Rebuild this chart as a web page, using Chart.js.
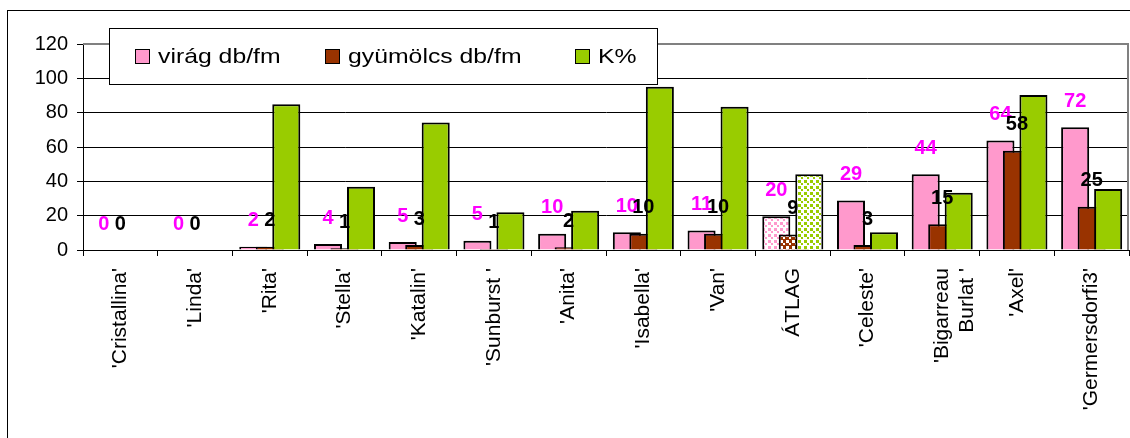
<!DOCTYPE html>
<html>
<head>
<meta charset="utf-8">
<script src="https://cdn.jsdelivr.net/npm/chart.js@4.4.1/dist/chart.umd.min.js"></script>
<style>
  body { margin: 0; background: #fff; }
  #wrap { width: 1130px; height: 438px; position: relative; }
</style>
</head>
<body>
<div id="wrap"><canvas id="myChart"></canvas></div>
<script>
const labels = [
  "'Cristallina'",
  "'Linda'",
  "'Rita'",
  "'Stella'",
  "'Katalin'",
  "'Sunburst '",
  "'Anita'",
  "'Isabella'",
  "'Van'",
  'ÁTLAG',
  "'Celeste'",
  ["'Bigarreau", "Burlat '"],
  "'Axel'",
  "'Germersdorfi3'"
];

const virag = [0, 0, 1.9, 3.5, 4.6, 5.4, 9.5, 10.3, 11.4, 19.6, 28.8, 44.1, 63.8, 71.5];
const gyumolcs = [0, 0, 1.9, 1.0, 2.9, 0.6, 1.6, 9.5, 9.5, 9.1, 2.9, 15.0, 57.8, 25.2];
const kSzazalek = [0, 0, 84.9, 36.9, 74.2, 22.0, 22.9, 95.1, 83.5, 44.1, 10.3, 33.4, 90.3, 35.5];

const seriesNames = ['virág db/fm', 'gyümölcs db/fm', 'K%'];
const yMax = 120;
const yStep = 20;

const pink = '#ff99cc';
const brown = '#993300';
const green = '#99cc00';
const FONT = '"Liberation Sans", Arial, sans-serif';

Chart.defaults.font.family = FONT;
Chart.defaults.color = '#000';

// the average column is filled with a dotted pattern in the original
function dots(fg, bg) {
  const c = document.createElement('canvas');
  c.width = c.height = 6;
  const g = c.getContext('2d');
  g.fillStyle = bg;
  g.fillRect(0, 0, 6, 6);
  g.fillStyle = fg;
  g.fillRect(0, 0, 3, 3);
  g.fillRect(3, 3, 2, 2);
  return g.createPattern(c, 'repeat');
}

function fills(color, pattern) {
  return labels.map(l => l === 'ÁTLAG' ? pattern : color);
}

const data = {
  labels: labels,
  datasets: [{
    label: seriesNames[0],
    data: virag,
    backgroundColor: fills(pink, dots(pink, '#fff')),
    legendColor: pink,
    labelColor: '#ff00ff'
  }, {
    label: seriesNames[1],
    data: gyumolcs,
    backgroundColor: fills(brown, dots('#fff', brown)),
    legendColor: brown,
    labelColor: '#000'
  }, {
    label: seriesNames[2],
    data: kSzazalek,
    backgroundColor: fills(green, dots(green, '#fff')),
    legendColor: green
  }]
};

// Excel paints later series over earlier ones, Chart.js does the opposite
const excelOrder = {
  id: 'excelOrder',
  beforeDatasetsDraw(chart) {
    const ctx = chart.ctx;
    const a = chart.chartArea;
    ctx.save();
    ctx.strokeStyle = '#808080';
    ctx.lineWidth = 2;
    ctx.beginPath();
    ctx.moveTo(a.left, a.top);
    ctx.lineTo(a.right - 1, a.top);
    ctx.lineTo(a.right - 1, a.bottom);
    ctx.stroke();
    ctx.restore();

    chart.data.datasets.forEach((ds, i) => chart.getDatasetMeta(i).controller.draw());

    chart.data.datasets.forEach((ds, i) => {
      if (!ds.labelColor) return;
      ctx.save();
      ctx.font = 'bold 20px ' + FONT;
      ctx.fillStyle = ds.labelColor;
      ctx.textAlign = 'center';
      ctx.textBaseline = 'middle';
      chart.getDatasetMeta(i).data.forEach((bar, j) => {
        ctx.fillText(Math.round(ds.data[j]), bar.x, bar.y - 26);
      });
      ctx.restore();
    });
    return false;
  }
};

const frame = {
  id: 'frame',
  beforeDraw(chart) {
    const ctx = chart.ctx;
    ctx.save();
    ctx.fillStyle = '#fff';
    ctx.fillRect(0, 0, chart.width, chart.height);
    ctx.strokeStyle = '#000';
    ctx.lineWidth = 1;
    ctx.strokeRect(7.5, 10.5, chart.width + 20, chart.height + 20);
    ctx.restore();
  },
  afterDraw(chart) {
    // boxed legend sitting over the top of the plot
    const ctx = chart.ctx;
    const itemX = [135, 325, 575];
    ctx.save();
    ctx.fillStyle = '#fff';
    ctx.fillRect(109.5, 28.5, 548, 56);
    ctx.strokeStyle = '#000';
    ctx.lineWidth = 1;
    ctx.strokeRect(109.5, 28.5, 548, 56);
    chart.data.datasets.forEach((ds, i) => {
      const x = itemX[i];
      ctx.fillStyle = ds.legendColor;
      ctx.fillRect(x + 0.5, 49.5, 14, 14);
      ctx.strokeRect(x + 0.5, 49.5, 14, 14);
      ctx.save();
      ctx.translate(x + 23, 63);
      ctx.scale(1.18, 1);
      ctx.fillStyle = '#000';
      ctx.font = '21px ' + FONT;
      ctx.textBaseline = 'alphabetic';
      ctx.fillText(ds.label, 0, 0);
      ctx.restore();
    });
    ctx.restore();
  }
};

const config = {
  type: 'bar',
  data: data,
  options: {
    responsive: true,
    maintainAspectRatio: false,
    animation: false,
    layout: {
      padding: { top: 44, right: 1, left: 0, bottom: 0 }
    },
    datasets: {
      bar: {
        borderColor: '#000',
        borderWidth: 2,
        categoryPercentage: 0.6625,
        barPercentage: 1.7
      }
    },
    plugins: {
      legend: { display: false },
      tooltip: { enabled: false }
    },
    scales: {
      x: {
        afterFit: s => { s.height = 188; },
        grid: {
          drawOnChartArea: false,
          color: '#000',
          tickLength: 6
        },
        border: { color: '#000', width: 1 },
        ticks: {
          autoSkip: false,
          minRotation: 90,
          maxRotation: 90,
          padding: 12,
          font: { size: 21 }
        }
      },
      y: {
        min: 0,
        max: yMax,
        afterFit: s => { s.width = 83; },
        grid: {
          color: '#000',
          tickLength: 6
        },
        border: { color: '#000', width: 1 },
        ticks: {
          stepSize: yStep,
          padding: 9,
          font: { size: 20 }
        }
      }
    }
  },
  plugins: [frame, excelOrder]
};

const myChart = new Chart(document.getElementById('myChart'), config);
</script>
</body>
</html>
